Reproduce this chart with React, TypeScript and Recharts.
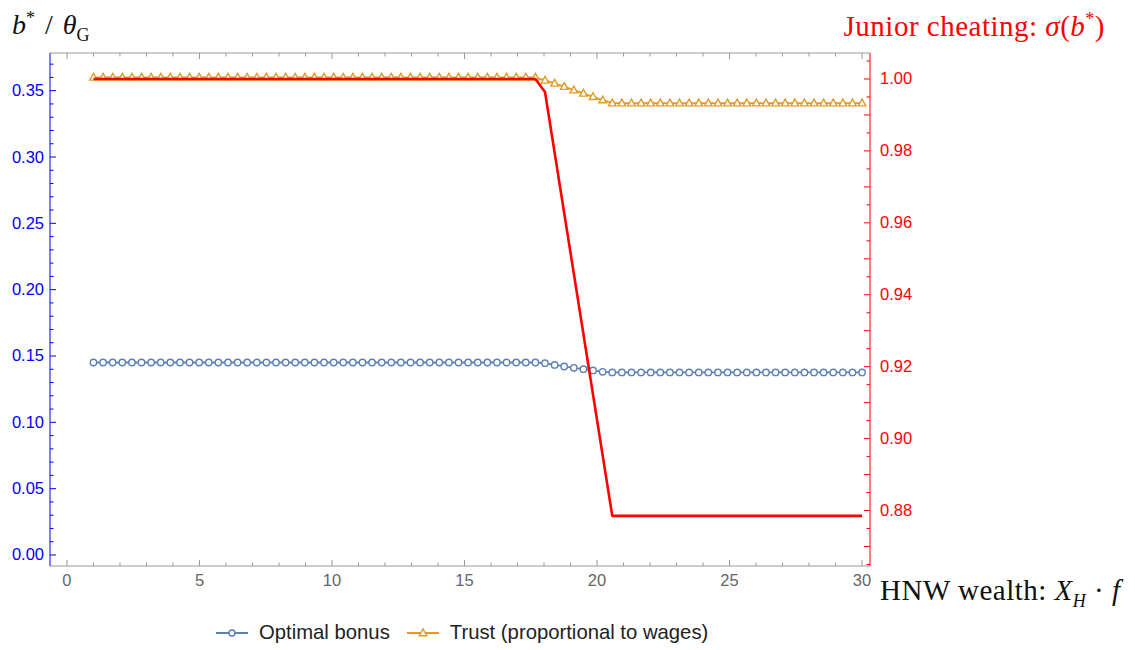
import { LineChart, Line, XAxis, YAxis } from 'recharts'

// x grid: 81 samples from 1 to 30
const X_START = 1
const X_STEP = 0.3625

const bonus = [
  0.1451, 0.1451, 0.1451, 0.1451, 0.1451, 0.1451, 0.1451, 0.1451, 0.1451, 0.1451,
  0.1451, 0.1451, 0.1451, 0.1451, 0.1451, 0.1451, 0.1451, 0.1451, 0.1451, 0.1451,
  0.1451, 0.1451, 0.1451, 0.1451, 0.1451, 0.1451, 0.1451, 0.1451, 0.1451, 0.1451,
  0.1451, 0.1451, 0.1451, 0.1451, 0.1451, 0.1451, 0.1451, 0.1451, 0.1451, 0.1451,
  0.1451, 0.1451, 0.1451, 0.1451, 0.1451, 0.1451, 0.1451, 0.1446, 0.1433, 0.1421,
  0.1411, 0.1401, 0.1391, 0.1381, 0.1376, 0.1376, 0.1376, 0.1376, 0.1376, 0.1376,
  0.1376, 0.1376, 0.1376, 0.1376, 0.1376, 0.1376, 0.1376, 0.1376, 0.1376, 0.1376,
  0.1376, 0.1376, 0.1376, 0.1376, 0.1376, 0.1376, 0.1376, 0.1376, 0.1376, 0.1376,
  0.1376,
]

const trust = [
  0.36, 0.36, 0.36, 0.36, 0.36, 0.36, 0.36, 0.36, 0.36, 0.36,
  0.36, 0.36, 0.36, 0.36, 0.36, 0.36, 0.36, 0.36, 0.36, 0.36,
  0.36, 0.36, 0.36, 0.36, 0.36, 0.36, 0.36, 0.36, 0.36, 0.36,
  0.36, 0.36, 0.36, 0.36, 0.36, 0.36, 0.36, 0.36, 0.36, 0.36,
  0.36, 0.36, 0.36, 0.36, 0.36, 0.36, 0.36, 0.3577, 0.3555, 0.3530,
  0.3504, 0.3479, 0.3454, 0.3429, 0.3406, 0.3406, 0.3406, 0.3406, 0.3406, 0.3406,
  0.3406, 0.3406, 0.3406, 0.3406, 0.3406, 0.3406, 0.3406, 0.3406, 0.3406, 0.3406,
  0.3406, 0.3406, 0.3406, 0.3406, 0.3406, 0.3406, 0.3406, 0.3406, 0.3406, 0.3406,
  0.3406,
]

// junior cheating (right axis), breakpoints of the red curve
const cheatX = [1, 17.675, 18.0375, 20.575, 30]
const cheatY = [1.0, 1.0, 0.9964, 0.8785, 0.8785]

const xTicks = [0, 1, 2, 3, 4, 5, 6, 7, 8, 9, 10, 11, 12, 13, 14, 15, 16, 17, 18, 19, 20, 21, 22, 23, 24, 25, 26, 27, 28, 29, 30]
const leftTicks = [
  0, 0.01, 0.02, 0.03, 0.04, 0.05, 0.06, 0.07, 0.08, 0.09, 0.1, 0.11, 0.12, 0.13, 0.14, 0.15, 0.16, 0.17, 0.18, 0.19,
  0.2, 0.21, 0.22, 0.23, 0.24, 0.25, 0.26, 0.27, 0.28, 0.29, 0.3, 0.31, 0.32, 0.33, 0.34, 0.35, 0.36, 0.37,
]
const rightTicks = [
  0.865, 0.87, 0.875, 0.88, 0.885, 0.89, 0.895, 0.9, 0.905, 0.91, 0.915, 0.92, 0.925, 0.93, 0.935,
  0.94, 0.945, 0.95, 0.955, 0.96, 0.965, 0.97, 0.975, 0.98, 0.985, 0.99, 0.995, 1.0, 1.005,
]

const rows = bonus.map((b, i) => ({ x: X_START + i * X_STEP, bonus: b, trust: trust[i] }))
const cheatRows = cheatX.map((x, i) => ({ x, cheat: cheatY[i] }))

const X_DOMAIN: [number, number] = [-0.64, 30.3]
const LEFT_DOMAIN: [number, number] = [-0.0083, 0.3784]
const RIGHT_DOMAIN: [number, number] = [0.86457, 1.00723]
const MARGIN = { top: 43, right: 205, bottom: 54, left: 10 }

const BLUE = '#5e81b5'
const ORANGE = '#e19c24'
const TICK_FONT = '"Liberation Sans", Arial, sans-serif'
const SERIF = '"Liberation Serif", "Times New Roman", serif'

function BottomTick({ x, y, payload }: any) {
  const major = payload.value % 5 === 0
  return (
    <g>
      <line x1={x} y1={y} x2={x} y2={y - (major ? 6 : 3.5)} stroke="#999" />
      {major && (
        <text x={x} y={y + 20} textAnchor="middle" fill="#666" fontSize={16.5} fontFamily={TICK_FONT}>
          {payload.value}
        </text>
      )}
    </g>
  )
}

function TopTick({ x, y, payload }: any) {
  const major = payload.value % 5 === 0
  return <line x1={x} y1={y} x2={x} y2={y + (major ? 6 : 3.5)} stroke="#999" />
}

function LeftTick({ x, y, payload }: any) {
  const major = Math.round(payload.value * 100) % 5 === 0
  return (
    <g>
      <line x1={x} y1={y} x2={x + (major ? 6 : 3.5)} y2={y} stroke="#0000ff" />
      {major && (
        <text x={x - 6} y={y + 5.5} textAnchor="end" fill="#0000ff" fontSize={16.5} fontFamily={TICK_FONT}>
          {payload.value.toFixed(2)}
        </text>
      )}
    </g>
  )
}

function RightTick({ x, y, payload }: any) {
  const major = Math.round(payload.value * 1000) % 20 === 0
  const mid = Math.round(payload.value * 1000) % 10 === 0
  return (
    <g>
      <line x1={x} y1={y} x2={x - (mid ? 6 : 3.5)} y2={y} stroke="#ff0000" />
      {major && (
        <text x={x + 10} y={y + 5.5} textAnchor="start" fill="#ff0000" fontSize={16.5} fontFamily={TICK_FONT}>
          {payload.value.toFixed(2)}
        </text>
      )}
    </g>
  )
}

function Triangle({ cx, cy, index }: any) {
  if (cx == null || cy == null) return <g key={`t${index}`} />
  return (
    <path
      key={`t${index}`}
      d={`M${cx},${cy - 4} L${cx + 3.8},${cy + 2.7} L${cx - 3.8},${cy + 2.7} Z`}
      fill="#fff"
      stroke={ORANGE}
      strokeWidth={1.4}
    />
  )
}

function LegendItem({ color, label, shape }: { color: string; label: string; shape: 'circle' | 'triangle' }) {
  return (
    <div style={{ display: 'flex', alignItems: 'center', marginRight: 17 }}>
      <svg width={32} height={14} style={{ marginRight: 11 }}>
        <line x1={0} y1={7} x2={32} y2={7} stroke={color} strokeWidth={2} />
        {shape === 'circle' ? (
          <circle cx={16} cy={7} r={3} fill="#fff" stroke={color} strokeWidth={1.4} />
        ) : (
          <path d="M16,3 L19.8,9.7 L12.2,9.7 Z" fill="#fff" stroke={color} strokeWidth={1.4} />
        )}
      </svg>
      <span>{label}</span>
    </div>
  )
}

export default function App() {
  return (
    <div style={{ position: 'absolute', left: 0, top: 0, width: 1135, height: 650, background: '#fff' }}>
      <LineChart width={1135} height={650} data={rows} margin={MARGIN}>
        <XAxis
          xAxisId="b"
          dataKey="x"
          type="number"
          domain={X_DOMAIN}
          allowDataOverflow
          ticks={xTicks}
          interval={0}
          height={30}
          tickSize={0}
          tickMargin={0}
          tickLine={false}
          axisLine={{ stroke: '#999' }}
          tick={<BottomTick />}
        />
        <XAxis
          xAxisId="t"
          orientation="top"
          dataKey="x"
          type="number"
          domain={X_DOMAIN}
          allowDataOverflow
          ticks={xTicks}
          interval={0}
          height={10}
          tickSize={0}
          tickMargin={0}
          tickLine={false}
          axisLine={{ stroke: '#999' }}
          tick={<TopTick />}
        />
        <YAxis
          yAxisId="l"
          type="number"
          domain={LEFT_DOMAIN}
          allowDataOverflow
          ticks={leftTicks}
          interval={0}
          width={40}
          tickSize={0}
          tickMargin={0}
          tickLine={false}
          axisLine={{ stroke: '#0000ff' }}
          tick={<LeftTick />}
        />
        <YAxis
          yAxisId="r"
          orientation="right"
          type="number"
          domain={RIGHT_DOMAIN}
          allowDataOverflow
          ticks={rightTicks}
          interval={0}
          width={60}
          tickSize={0}
          tickMargin={0}
          tickLine={false}
          axisLine={{ stroke: '#ff0000' }}
          tick={<RightTick />}
        />
        <Line
          xAxisId="b"
          yAxisId="l"
          dataKey="bonus"
          stroke={BLUE}
          strokeWidth={1.8}
          dot={{ r: 3.2, fill: '#fff', stroke: BLUE, strokeWidth: 1.4 }}
          isAnimationActive={false}
        />
        <Line
          xAxisId="b"
          yAxisId="l"
          dataKey="trust"
          stroke={ORANGE}
          strokeWidth={1.8}
          dot={<Triangle />}
          isAnimationActive={false}
        />
      </LineChart>

      {/* red curve drawn in an overlay with identical geometry so it sits above the markers */}
      <div style={{ position: 'absolute', left: 0, top: 0, pointerEvents: 'none' }}>
        <LineChart width={1135} height={650} data={cheatRows} margin={MARGIN}>
          <XAxis xAxisId="b" dataKey="x" type="number" domain={X_DOMAIN} allowDataOverflow height={30} tick={false} tickLine={false} axisLine={false} />
          <XAxis xAxisId="t" orientation="top" dataKey="x" type="number" domain={X_DOMAIN} allowDataOverflow height={10} tick={false} tickLine={false} axisLine={false} />
          <YAxis yAxisId="l" type="number" domain={LEFT_DOMAIN} allowDataOverflow width={40} tick={false} tickLine={false} axisLine={false} />
          <YAxis yAxisId="r" orientation="right" type="number" domain={RIGHT_DOMAIN} allowDataOverflow width={60} tick={false} tickLine={false} axisLine={false} />
          <Line
            xAxisId="b"
            yAxisId="r"
            dataKey="cheat"
            stroke="#ff0000"
            strokeWidth={2.6}
            strokeLinejoin="round"
            dot={false}
            isAnimationActive={false}
          />
        </LineChart>
      </div>

      <div style={{ position: 'absolute', left: 12, top: 2, fontFamily: SERIF, fontSize: 28, lineHeight: '32px', color: '#111' }}>
        <i>b</i>
        <sup style={{ fontSize: 18 }}>*</sup>
        <span style={{ margin: '0 10px' }}>/</span>
        <i>θ</i>
        <sub style={{ fontSize: 18 }}>G</sub>
      </div>
      <div
        style={{
          position: 'absolute',
          right: 30,
          top: 3,
          fontFamily: SERIF,
          fontSize: 29,
          letterSpacing: 0.5,
          lineHeight: '32px',
          color: '#ff0000',
        }}
      >
        Junior cheating: <i>σ</i>(<i>b</i>
        <sup style={{ fontSize: 18 }}>*</sup>)
      </div>
      <div
        style={{
          position: 'absolute',
          left: 880,
          top: 574,
          fontFamily: SERIF,
          fontSize: 29,
          letterSpacing: 0.5,
          lineHeight: '32px',
          color: '#111',
        }}
      >
        HNW wealth: <i>X</i>
        <sub style={{ fontSize: 18 }}>
          <i>H</i>
        </sub>{' '}
        · <i>f</i>
      </div>

      <div
        style={{
          position: 'absolute',
          left: 216,
          top: 621,
          display: 'flex',
          fontFamily: TICK_FONT,
          fontSize: 20.3,
          color: '#222',
        }}
      >
        <LegendItem color={BLUE} label="Optimal bonus" shape="circle" />
        <LegendItem color={ORANGE} label="Trust (proportional to wages)" shape="triangle" />
      </div>
    </div>
  )
}
